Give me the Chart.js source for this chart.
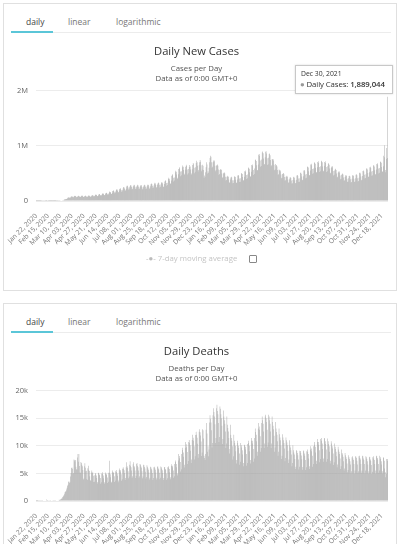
<!DOCTYPE html>
<html>
<head>
<meta charset="utf-8">
<script src="https://cdn.jsdelivr.net/npm/chart.js@4.4.1/dist/chart.umd.min.js"></script>
<style>
  html, body { margin: 0; padding: 0; background: #fff; width: 400px; height: 544px; overflow: hidden; }
  body { position: relative; font-family: "Open Sans", "Liberation Sans", sans-serif; }
  .panel { position: absolute; left: 3px; width: 392px; border: 1px solid #e0e0e0; background: #fff; }
  .tab { position: absolute; top: 12px; font-size: 8.5px; color: #777; }
  .tab.on { color: #444; }
  .tabline { position: absolute; top: 28px; left: 7px; width: 380px; height: 1px; background: #ececec; }
  .tabon { position: absolute; top: 27px; left: 7px; width: 42px; height: 2px; background: #5bc6d8; }
  .box { position: absolute; left: 1px; width: 392px; height: 218px; }
  .tip { position: absolute; left: 291px; top: 61px; width: 96px; height: 27px; border: 1px solid #c8c8c8;
         background: rgba(255,255,255,0.95); box-shadow: 0 0 2px rgba(0,0,0,0.15); color: #333; }
  .tip .t1 { position: absolute; left: 5px; top: 3px; font-size: 6.8px; }
  .tip .t2 { position: absolute; left: 4px; top: 13px; font-size: 7.8px; white-space: nowrap; letter-spacing: -0.1px; }
  .tip .t2 b { font-weight: 600; }
  .legend { position: absolute; top: 249px; left: 142px; font-size: 7.8px; color: #c4c4c4; white-space: nowrap; }
  .check { position: absolute; top: 251px; left: 245px; width: 6px; height: 6px; border: 1px solid #888; border-radius: 1px; }
</style>
</head>
<body>

<div class="panel" style="top:3px;height:286px">
  <span class="tab on" style="left:22px">daily</span>
  <span class="tab" style="left:64px">linear</span>
  <span class="tab" style="left:112px">logarithmic</span>
  <div class="tabline"></div><div class="tabon"></div>
  <div class="box" style="top:33px"><canvas id="casesChart"></canvas></div>
  <div class="tip"><span class="t1" id="tipDate"></span><span class="t2" id="tipVal"></span></div>
  <div class="legend"><span style="color:#bbb">-●-</span> 7-day moving average</div>
  <div class="check"></div>
</div>

<div class="panel" style="top:303px;height:260px">
  <span class="tab on" style="left:22px">daily</span>
  <span class="tab" style="left:64px">linear</span>
  <span class="tab" style="left:112px">logarithmic</span>
  <div class="tabline"></div><div class="tabon"></div>
  <div class="box" style="top:33px"><canvas id="deathsChart"></canvas></div>
</div>

<script>
// 每日新增病例（千例），2020-01-22 起，每行一周（周三..周二）
const dailyCasesK = [
  0.6, 0.1, 0.3, 0.7, 0.8, 0.8, 1.8,
  1.5, 1.7, 2.0, 2.1, 2.6, 2.8, 3.2,
  3.9, 3.7, 3.2, 2.7, 2.6, 2.1, 2.0,
  2.0, 15.2, 5.1, 2.6, 2.1, 2.0, 1.9,
  0.5, 0.9, 1.0, 1.1, 1.0, 0.7, 0.9,
  1.1, 1.4, 1.5, 1.9, 2.0, 1.8, 2.4,
  2.2, 2.8, 3.9, 4.2, 4.0, 3.8, 4.7,
  7.5, 7.8, 10.9, 11.0, 13.0, 15.6, 14.0,
  21, 29, 33, 33, 36, 38, 42,
  52, 62, 65, 63, 60, 58, 65,
  76, 81, 84, 76, 70, 70, 82,
  89, 94, 90, 82, 70, 72, 78,
  88, 96, 92, 82, 72, 74, 80,
  90, 98, 94, 84, 73, 74, 81,
  90, 96, 95, 83, 74, 75, 82,
  94, 99, 96, 86, 75, 78, 86,
  100, 106, 104, 94, 80, 84, 94,
  108, 116, 112, 102, 86, 90, 100,
  118, 126, 122, 110, 96, 98, 112,
  130, 138, 134, 122, 104, 108, 122,
  142, 150, 146, 132, 112, 116, 134,
  160, 170, 164, 148, 126, 130, 150,
  180, 192, 186, 168, 142, 148, 170,
  200, 212, 206, 186, 156, 162, 188,
  216, 230, 222, 200, 168, 176, 202,
  238, 252, 244, 220, 184, 194, 222,
  264, 280, 270, 244, 206, 214, 248,
  272, 288, 280, 252, 212, 222, 256,
  278, 292, 284, 256, 216, 226, 260,
  278, 292, 284, 256, 216, 226, 260,
  276, 290, 280, 254, 214, 224, 258,
  280, 296, 286, 258, 216, 228, 262,
  284, 300, 290, 262, 220, 230, 266,
  302, 318, 308, 278, 234, 246, 282,
  312, 330, 318, 288, 242, 254, 292,
  318, 336, 324, 294, 246, 258, 298,
  326, 344, 332, 302, 252, 264, 306,
  354, 374, 362, 328, 274, 288, 332,
  396, 420, 404, 366, 308, 322, 372,
  456, 482, 464, 420, 352, 370, 426,
  520, 548, 530, 480, 400, 420, 486,
  578, 610, 588, 534, 446, 468, 540,
  610, 644, 620, 562, 470, 494, 570,
  620, 655, 632, 572, 480, 503, 580,
  615, 650, 626, 568, 476, 498, 576,
  652, 688, 664, 602, 504, 528, 610,
  690, 728, 702, 636, 532, 560, 645,
  700, 740, 712, 646, 540, 568, 655,
  640, 560, 420, 460, 440, 520, 610,
  700, 660, 500, 540, 510, 600, 700,
  780, 820, 800, 700, 600, 620, 700,
  720, 740, 720, 640, 540, 560, 640,
  650, 660, 640, 570, 470, 490, 560,
  570, 580, 560, 500, 420, 430, 500,
  510, 515, 500, 440, 370, 380, 440,
  445, 455, 440, 390, 330, 340, 390,
  425, 440, 425, 375, 320, 325, 375,
  440, 450, 435, 385, 325, 335, 390,
  460, 470, 455, 405, 345, 350, 410,
  495, 505, 490, 435, 370, 375, 440,
  540, 550, 530, 470, 400, 410, 480,
  595, 605, 585, 520, 440, 450, 530,
  650, 660, 640, 560, 470, 490, 590,
  740, 750, 725, 645, 550, 560, 660,
  835, 850, 820, 735, 620, 635, 750,
  880, 895, 865, 770, 655, 670, 790,
  890, 900, 860, 775, 650, 665, 785,
  850, 860, 830, 740, 630, 645, 760,
  750, 760, 735, 655, 555, 570, 670,
  640, 650, 625, 560, 475, 485, 570,
  550, 560, 540, 480, 410, 420, 490,
  495, 505, 485, 435, 370, 375, 440,
  445, 455, 440, 390, 330, 340, 395,
  425, 430, 415, 370, 315, 320, 380,
  430, 440, 420, 375, 320, 325, 385,
  460, 470, 455, 405, 345, 350, 410,
  505, 515, 495, 445, 375, 385, 450,
  550, 560, 540, 480, 410, 420, 490,
  615, 625, 605, 540, 460, 470, 550,
  660, 672, 648, 578, 492, 504, 590,
  688, 700, 675, 600, 512, 525, 612,
  705, 718, 690, 615, 525, 538, 628,
  715, 728, 700, 625, 533, 546, 638,
  705, 718, 690, 615, 525, 538, 628,
  672, 684, 658, 586, 500, 512, 598,
  622, 634, 610, 542, 463, 475, 554,
  572, 582, 562, 500, 426, 437, 510,
  528, 538, 518, 460, 394, 403, 470,
  490, 498, 480, 427, 365, 374, 436,
  462, 470, 454, 403, 344, 353, 412,
  451, 459, 443, 394, 336, 344, 402,
  462, 470, 454, 403, 344, 353, 412,
  473, 482, 464, 413, 353, 361, 421,
  506, 515, 497, 442, 377, 386, 451,
  545, 554, 535, 475, 406, 416, 485,
  583, 594, 572, 509, 435, 445, 519,
  610, 622, 599, 533, 455, 466, 544,
  638, 650, 626, 557, 476, 487, 568,
  671, 683, 659, 586, 500, 512, 598,
  704, 717, 691, 614, 525, 538, 627,
  820, 1010, 790, 560, 520, 760, 960,
  780, 1889.044
];

// 每日死亡人数
const dailyDeaths = [
  17, 8, 16, 15, 24, 26, 26,
  38, 43, 46, 45, 57, 64, 66,
  73, 73, 86, 89, 97, 108, 97,
  254, 13, 143, 142, 106, 98, 136,
  114, 118, 109, 97, 150, 71, 52,
  29, 44, 37, 58, 67, 72, 72,
  84, 82, 100, 105, 217, 202, 233,
  276, 350, 440, 420, 690, 780, 950,
  1050, 1290, 1630, 1700, 1780, 2070, 2420,
  2750, 2950, 3480, 3540, 3280, 3380, 4420,
  5060, 5980, 6060, 5850, 4940, 5080, 7500,
  7370, 7140, 7410, 6220, 5750, 5650, 7880,
  8520, 7120, 8500, 6350, 5150, 5100, 7080,
  6870, 6580, 6310, 5620, 3880, 4080, 6290,
  6820, 6020, 5370, 5460, 4000, 3820, 5950,
  6380, 5660, 5420, 4490, 3760, 3680, 5180,
  5510, 5080, 5190, 4560, 3420, 3500, 4680,
  5060, 4840, 4620, 4180, 3170, 3430, 5060,
  5120, 4800, 4650, 4150, 3100, 3380, 4980,
  5200, 4900, 4600, 4100, 3100, 3400, 4950,
  5150, 4950, 4700, 4250, 3250, 3500, 5100,
  7300, 5100, 4850, 4300, 3300, 3500, 5200,
  5500, 5200, 5050, 4500, 3450, 3700, 5400,
  5600, 5250, 5000, 4550, 3400, 3700, 5550,
  5900, 5600, 5350, 4850, 3650, 3950, 5850,
  6100, 5850, 5550, 5050, 3800, 4150, 6100,
  7000, 6300, 6000, 5400, 4100, 4450, 6550,
  7200, 6400, 6100, 5500, 4200, 4500, 6650,
  7000, 6350, 6100, 5500, 4150, 4550, 6700,
  6900, 6400, 6100, 5500, 4200, 4500, 6700,
  6550, 6250, 6000, 5400, 4100, 4450, 6550,
  6450, 6150, 5900, 5300, 4050, 4350, 6450,
  6200, 5950, 5650, 5150, 3900, 4200, 6200,
  6100, 5850, 5550, 5050, 3800, 4150, 6100,
  6200, 5950, 5650, 5150, 3900, 4200, 6200,
  6250, 5900, 5700, 5100, 3950, 4200, 6250,
  6100, 5850, 5550, 5050, 3800, 4150, 6100,
  6150, 5800, 5600, 5000, 3850, 4100, 6100,
  6300, 6050, 5800, 5200, 3950, 4300, 6350,
  6650, 6400, 6100, 5500, 4200, 4500, 6700,
  7350, 7050, 6700, 6100, 4600, 5000, 7350,
  8500, 8150, 7750, 7050, 5350, 5750, 8500,
  9650, 9250, 8800, 8000, 6050, 6550, 9650,
  10700, 10250, 9750, 8850, 6700, 7250, 10700,
  11050, 10550, 10100, 9100, 6900, 7500, 11050,
  12000, 11450, 10900, 9900, 7500, 8100, 11950,
  12550, 12000, 11450, 10350, 7850, 8500, 12550,
  13000, 12450, 11850, 10750, 8150, 8800, 13000,
  12800, 11300, 8200, 7800, 7400, 8500, 12900,
  14100, 12200, 8900, 9900, 8100, 9300, 14200,
  15500, 14900, 14200, 12800, 9700, 10500, 15500,
  16800, 16100, 15300, 13900, 10500, 11400, 16800,
  17400, 16300, 15700, 14100, 10700, 11600, 17100,
  16700, 15700, 15000, 13600, 10300, 11200, 16400,
  15300, 14600, 14000, 12600, 9600, 10400, 15300,
  13800, 13200, 12600, 11400, 8600, 9400, 13800,
  12000, 11400, 10900, 9900, 7500, 8100, 12000,
  10900, 10500, 10000, 9000, 6800, 7400, 10900,
  10500, 10000, 9600, 8600, 6550, 7100, 10500,
  10100, 9700, 9200, 8400, 6300, 6900, 10100,
  10200, 9800, 9300, 8500, 6400, 6900, 10300,
  10900, 10500, 10000, 9000, 6800, 7400, 10900,
  11400, 10900, 10400, 9400, 7100, 7700, 11400,
  13100, 12500, 12000, 10800, 8200, 8900, 13100,
  14100, 13500, 12900, 11700, 8900, 9600, 14100,
  15300, 14600, 14000, 12600, 9600, 10400, 15300,
  15600, 15000, 14300, 12900, 9800, 10600, 15600,
  15300, 14600, 14000, 12600, 9600, 10400, 15300,
  14300, 13600, 13000, 11800, 8900, 9700, 14300,
  13100, 12500, 12000, 10800, 8200, 8900, 13100,
  12100, 11500, 11000, 10000, 7600, 8200, 12100,
  11500, 11000, 10500, 9500, 7200, 7800, 11500,
  11000, 10600, 10100, 9100, 6900, 7500, 11000,
  10100, 9700, 9200, 8400, 6300, 6900, 10100,
  9200, 8800, 8400, 7600, 5800, 6200, 9200,
  9100, 8700, 8300, 7500, 5700, 6200, 9100,
  9050, 8750, 8250, 7550, 5650, 6150, 9150,
  9000, 8600, 8200, 7400, 5600, 6100, 9000,
  9300, 8900, 8500, 7700, 5800, 6300, 9300,
  9900, 9500, 9000, 8200, 6200, 6700, 9900,
  10700, 10200, 9800, 8800, 6700, 7300, 10700,
  11200, 10700, 10200, 9200, 7000, 7600, 11200,
  11400, 10900, 10400, 9400, 7100, 7700, 11400,
  11300, 10800, 10300, 9300, 7100, 7600, 11300,
  10800, 10300, 9900, 8900, 6800, 7300, 10800,
  10400, 9900, 9500, 8600, 6500, 7000, 10400,
  9800, 9400, 8900, 8100, 6100, 6600, 9800,
  9300, 8900, 8500, 7700, 5800, 6300, 9300,
  8700, 8400, 8000, 7200, 5500, 5900, 8700,
  8300, 7900, 7600, 6800, 5200, 5600, 8300,
  7900, 7600, 7200, 6600, 5000, 5400, 7900,
  8100, 7700, 7400, 6700, 5000, 5500, 8100,
  8000, 7800, 7300, 6600, 5100, 5400, 8100,
  8200, 7800, 7500, 6700, 5100, 5500, 8200,
  8100, 7700, 7400, 6700, 5000, 5500, 8100,
  7900, 7600, 7200, 6600, 5000, 5400, 7900,
  8000, 7500, 7300, 6500, 4900, 5300, 7900,
  8100, 7700, 7400, 6700, 5000, 5500, 8100,
  8200, 7800, 7500, 6700, 5100, 5500, 8200,
  7900, 7600, 7200, 6600, 5000, 5400, 7900,
  7800, 7300, 5900, 5200, 4300, 4900, 7600,
  7600, 7300
];

// x 轴显示的日期（每 24 天一个）
const tickLabels = [
  'Jan 22, 2020', 'Feb 15, 2020', 'Mar 10, 2020', 'Apr 03, 2020', 'Apr 27, 2020', 'May 21, 2020',
  'Jun 14, 2020', 'Jul 08, 2020', 'Aug 01, 2020', 'Aug 25, 2020', 'Sep 18, 2020', 'Oct 12, 2020',
  'Nov 05, 2020', 'Nov 29, 2020', 'Dec 23, 2020', 'Jan 16, 2021', 'Feb 09, 2021', 'Mar 05, 2021',
  'Mar 29, 2021', 'Apr 22, 2021', 'May 16, 2021', 'Jun 09, 2021', 'Jul 03, 2021', 'Jul 27, 2021',
  'Aug 20, 2021', 'Sep 13, 2021', 'Oct 07, 2021', 'Oct 31, 2021', 'Nov 24, 2021', 'Dec 18, 2021'
];
const casesTicks = [0, 1000000, 2000000];
const casesTickText = ['0', '1M', '2M'];
const deathsTicks = [0, 5000, 10000, 15000, 20000];
const deathsTickText = ['0', '5k', '10k', '15k', '20k'];

const monthNames = ['Jan','Feb','Mar','Apr','May','Jun','Jul','Aug','Sep','Oct','Nov','Dec'];
const startDay = Date.UTC(2020, 0, 22);
const dayLabels = dailyCasesK.map(function(_, i) {
    const d = new Date(startDay + i * 86400000);
    return monthNames[d.getUTCMonth()] + ' ' + String(d.getUTCDate()).padStart(2, '0') + ', ' + d.getUTCFullYear();
});
const tickSet = new Set(tickLabels);

const FONT = '"Open Sans", "Liberation Sans", sans-serif';
Chart.defaults.font.family = FONT;
Chart.defaults.animation = false;

function makeChart(canvasId, title, subtitle, values, maxY, tickVals, tickText) {
    return new Chart(document.getElementById(canvasId), {
        type: 'bar',
        data: {
            labels: dayLabels,
            datasets: [{
                data: values,
                backgroundColor: '#a2a2a2',
                barPercentage: 1,
                categoryPercentage: 0.9,
            }]
        },
        options: {
            responsive: true,
            maintainAspectRatio: false,
            layout: { padding: { right: 9, bottom: 0 } },
            scales: {
                x: {
                    grid: { display: false },
                    border: { display: false },
                    ticks: {
                        autoSkip: false,
                        minRotation: 45,
                        maxRotation: 45,
                        padding: 3,
                        color: '#777',
                        font: { size: 6.8 },
                        callback: function(v, i) { return tickSet.has(dayLabels[i]) ? dayLabels[i] : ''; }
                    },
                    afterFit: function(s) { s.paddingLeft = 0; s.paddingRight = 0; s.height = 54; }
                },
                y: {
                    min: 0,
                    max: maxY,
                    afterBuildTicks: function(s) { s.ticks = tickVals.map(function(v) { return { value: v }; }); },
                    grid: { color: '#ececec', drawTicks: false },
                    border: { display: false },
                    ticks: {
                        padding: 8,
                        color: '#666',
                        font: { size: 7.5 },
                        callback: function(v) { return tickText[tickVals.indexOf(v)]; }
                    },
                    afterFit: function(s) { s.width = 31; }
                }
            },
            plugins: {
                legend: { display: false },
                tooltip: { enabled: false },
                title: {
                    display: true,
                    text: title,
                    color: '#333',
                    font: { size: 11.2, weight: 'normal' },
                    padding: { top: 8, bottom: 5 }
                },
                subtitle: {
                    display: true,
                    text: subtitle,
                    color: '#555',
                    font: { size: 7.8, lineHeight: 1.35 },
                    padding: { top: 0, bottom: 6 }
                }
            }
        }
    });
}

makeChart('casesChart', 'Daily New Cases', ['Cases per Day', 'Data as of 0:00 GMT+0'],
    dailyCasesK.map(function(v) { return v * 1000; }), 2000000, casesTicks, casesTickText);
makeChart('deathsChart', 'Daily Deaths', ['Deaths per Day', 'Data as of 0:00 GMT+0'],
    dailyDeaths, 20000, deathsTicks, deathsTickText);

// 悬停提示：最后一天
const last = dailyCasesK.length - 1;
document.getElementById('tipDate').textContent = dayLabels[last];
document.getElementById('tipVal').innerHTML = '<span style="color:#999">●</span> Daily Cases: <b>' +
    Math.round(dailyCasesK[last] * 1000).toLocaleString('en-US') + '</b>';
</script>
</body>
</html>
